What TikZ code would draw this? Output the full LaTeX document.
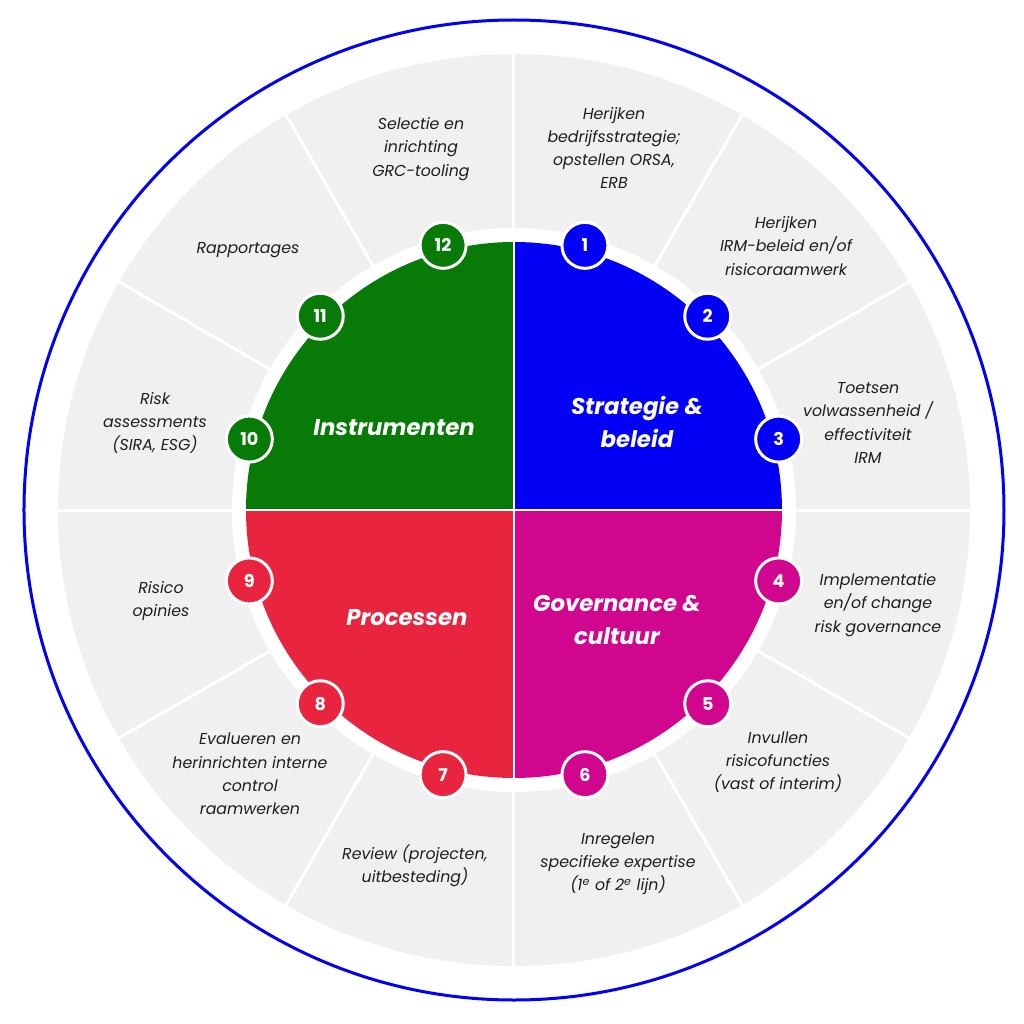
\documentclass[tikz,border=0pt]{standalone}
\usepackage{fontspec}
\setmainfont{Poppins}
\definecolor{bluec}{RGB}{2,0,245}
\definecolor{greenc}{RGB}{8,122,8}
\definecolor{redc}{RGB}{232,36,62}
\definecolor{magc}{RGB}{208,6,142}
\definecolor{grayc}{RGB}{240,240,240}
\definecolor{txtc}{RGB}{30,30,30}
\tikzset{
  numc/.style={circle, draw=white, line width=1.5pt, minimum size=23pt, inner sep=0pt, text=white, font=\bfseries\fontsize{8.8}{10}\selectfont},
  lab/.style={align=center, text=txtc, font=\itshape\fontsize{7.9}{11.6}\selectfont},
  quad/.style={align=center, text=white, font=\bfseries\itshape\fontsize{11.4}{16.2}\selectfont},
  sep/.style={white, line width=1.5pt}
}
\begin{document}
\begin{tikzpicture}[x=0.5pt,y=0.5pt]
\useasboundingbox (-514,-514) rectangle (510,510);
\fill[white] (-514,-514) rectangle (510,510);
\draw[bluec, line width=1.5pt] (0,0) circle (490);
\fill[grayc] (0,0) circle (456);
\fill[white] (0,0) circle (282);
\foreach \a in {0,30,...,330} \draw[sep] (\a:280) -- (\a:458);
\fill[bluec] (0,0) -- (0:268) arc (0:90:268) -- cycle;
\fill[greenc] (0,0) -- (90:268) arc (90:180:268) -- cycle;
\fill[redc] (0,0) -- (180:268) arc (180:270:268) -- cycle;
\fill[magc] (0,0) -- (270:268) arc (270:360:268) -- cycle;
\draw[white, line width=1pt] (-270,0) -- (270,0);
\draw[white, line width=1pt] (0,-270) -- (0,270);
% quadrant labels
\node[quad] (q1) at (123,88) {Strategie \&\\beleid};
\node[quad] (q2) at (-120,82) {Instrumenten};
\node[quad] (q3) at (-107,-108) {Processen};
\node[quad] (q4) at (103,-110) {Governance \&\\cultuur};
% number circles
\node[numc, fill=bluec] (n1) at (75:274) {1};
\node[numc, fill=bluec] (n2) at (45:274) {2};
\node[numc, fill=bluec] (n3) at (15:274) {3};
\node[numc, fill=magc] (n4) at (-15:274) {4};
\node[numc, fill=magc] (n5) at (-45:274) {5};
\node[numc, fill=magc] (n6) at (-75:274) {6};
\node[numc, fill=redc] (n7) at (-105:274) {7};
\node[numc, fill=redc] (n8) at (-135:274) {8};
\node[numc, fill=redc] (n9) at (-165:274) {9};
\node[numc, fill=greenc] (n10) at (165:274) {10};
\node[numc, fill=greenc] (n11) at (135:274) {11};
\node[numc, fill=greenc] (n12) at (105:274) {12};
% labels
\node[lab] (l1) at (100,362) {Herijken\\bedrijfsstrategie;\\opstellen ORSA,\\ERB};
\node[lab] (l2) at (272,264) {Herijken\\IRM-beleid en/of\\risicoraamwerk};
\node[lab] (l3) at (354,87) {Toetsen\\volwassenheid /\\effectiviteit\\IRM};
\node[lab] (l4) at (364,-95) {Implementatie\\en/of change\\risk governance};
\node[lab] (l5) at (264,-252) {Invullen\\risicofuncties\\(vast of interim)};
\node[lab] (l6) at (104,-354) {Inregelen\\specifieke expertise\\(1\textsuperscript{e} of 2\textsuperscript{e} lijn)};
\node[lab] (l7) at (-99,-356) {Review (projecten,\\uitbesteding)};
\node[lab] (l8) at (-264,-264) {Evalueren en\\herinrichten interne\\control\\raamwerken};
\node[lab] (l9) at (-353,-91) {Risico\\opinies};
\node[lab] (l10) at (-359,87) {Risk\\assessments\\(SIRA, ESG)};
\node[lab] (l11) at (-266,260) {Rapportages};
\node[lab] (l12) at (-93,361) {Selectie en\\inrichting\\GRC-tooling};
\end{tikzpicture}
\end{document}
